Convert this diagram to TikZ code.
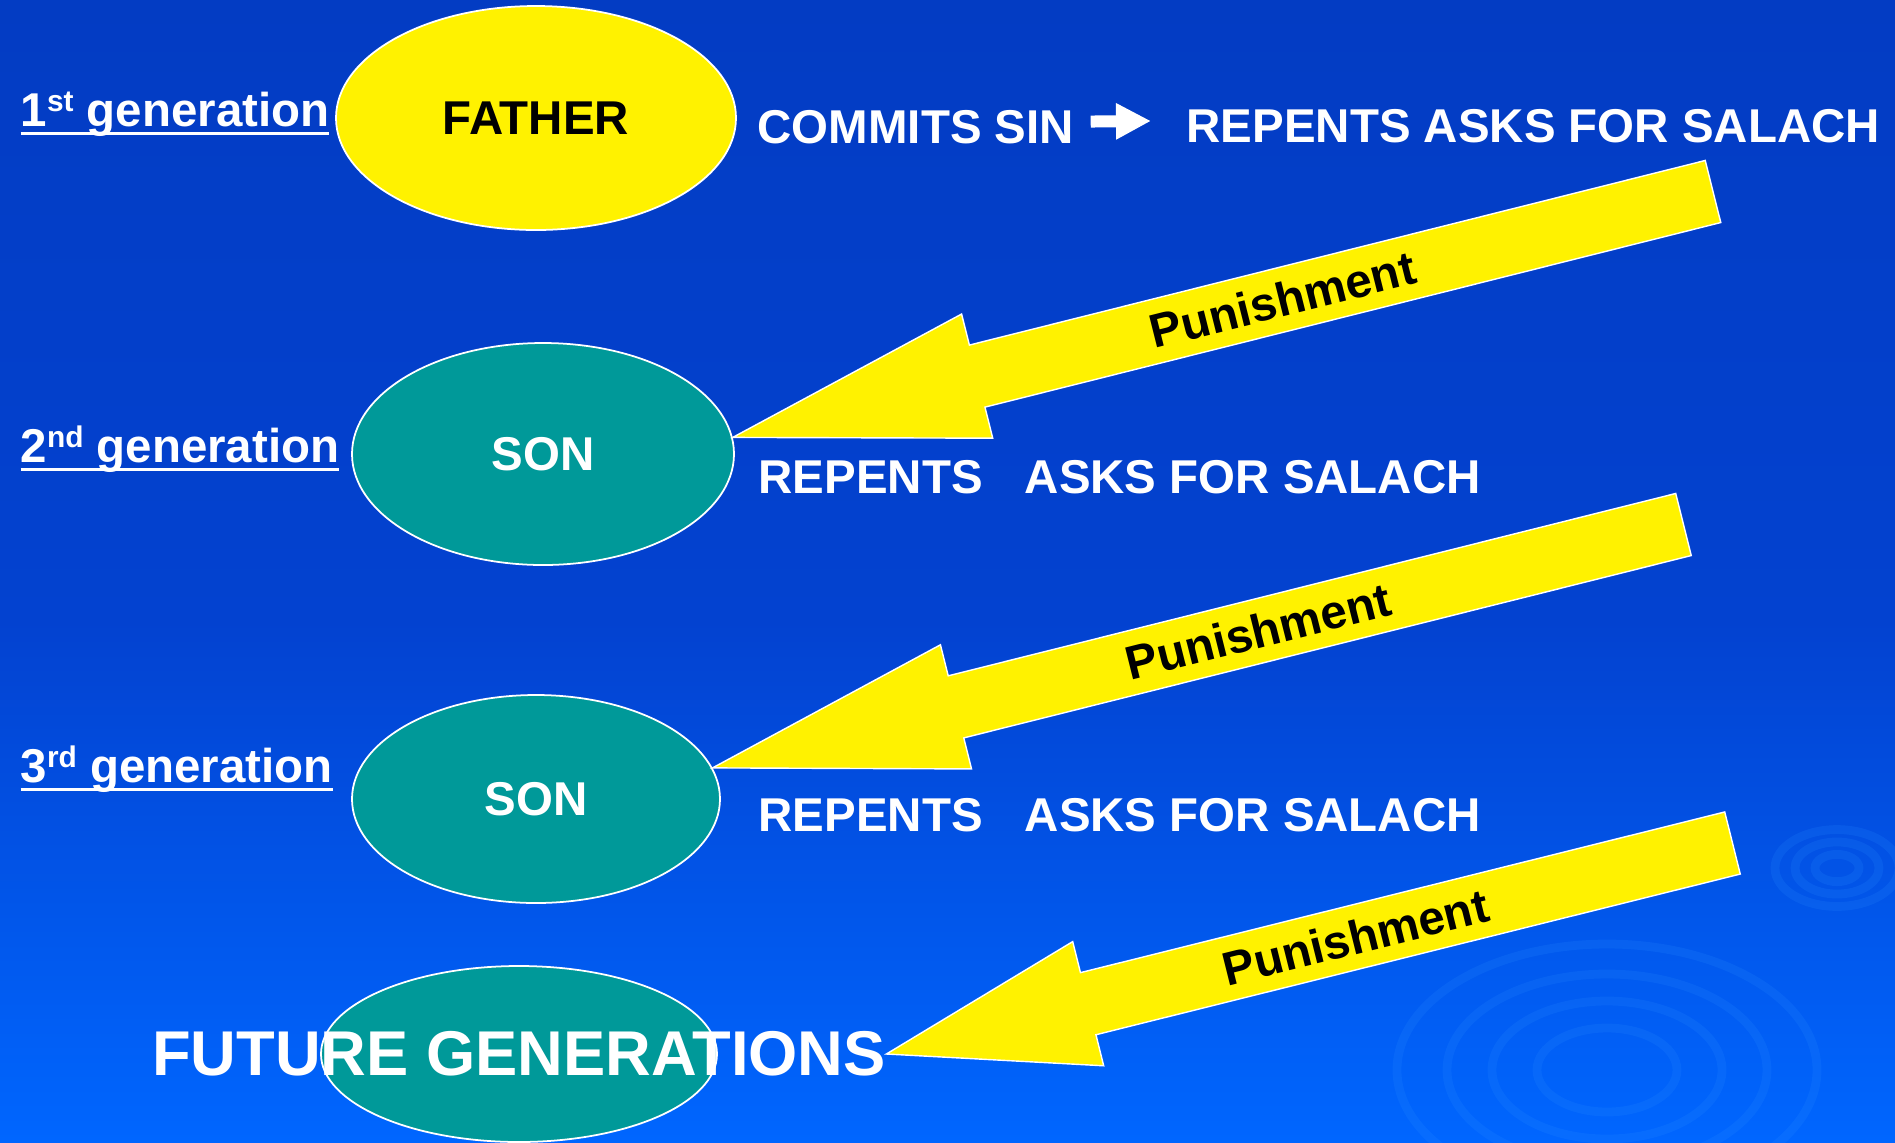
\documentclass[tikz,border=0pt]{standalone}
\usepackage{fontspec}
\setmainfont{Liberation Sans}
\usetikzlibrary{shapes.geometric,calc,arrows.meta}
\definecolor{bgtop}{RGB}{3,60,195}
\definecolor{bgmid}{RGB}{3,66,208}
\definecolor{bgbot}{RGB}{0,102,255}
\definecolor{sonteal}{RGB}{0,153,153}
\definecolor{ripple}{RGB}{40,140,255}
\newcommand{\ulgen}[1]{\setbox0\hbox{#1}\rlap{\rule[-2.6pt]{\wd0}{0.8pt}}\box0}
\newcommand{\gsup}[1]{\raisebox{4pt}{\fontsize{8.5}{8.5}\selectfont #1}}
\newcommand{\punarrow}[4]{%
  \coordinate (hb) at ($(#1)!#3!(#2)$);
  \filldraw[pun] (#1) -- ($(hb)!0.64cm!90:(#2)$) -- ($(hb)!0.32cm!90:(#2)$)
    -- ($(#2)!0.32cm!-90:(hb)$) -- ($(#2)!0.32cm!90:(hb)$)
    -- ($(hb)!0.32cm!-90:(#2)$) -- ($(hb)!0.64cm!-90:(#2)$) -- cycle;
  \path (hb) -- (#2) node[pos=0.415,sloped,plab] (#4) {Punishment};
}
\begin{document}
\begin{tikzpicture}[
    lbl/.style={font=\fontsize{13.5}{16}\selectfont\bfseries,inner sep=0pt},
    txt/.style={lbl,text=white},
    ell/.style={ellipse,draw=white,line width=0.5pt,inner sep=0pt},
    pun/.style={fill=yellow,draw=white,line width=0.4pt,line join=miter},
    plab/.style={lbl,text=black},
    rip/.style={draw=ripple,line width=2.5pt,opacity=0.18}]
    \useasboundingbox (0,0) rectangle (18.95,-11.42);
    \shade[top color=bgtop,bottom color=bgmid] (0,0) rectangle (18.95,-6.2);
    \shade[top color=bgmid,bottom color=bgbot] (0,-6.2) rectangle (18.95,-11.42);
    % ripples
    \foreach \r in {0.7,1.15,1.6,2.1}
        \draw[rip] (16.07,-10.7) ellipse ({\r} and {0.6*\r});
    \foreach \r in {0.22,0.42,0.62}
        \draw[rip] (18.37,-8.68) ellipse ({\r} and {0.62*\r});

    \node[ell,fill=yellow,lbl,text=black,minimum width=4cm,minimum height=2.24cm] (father) at (5.36,-1.18) {FATHER};
    \node[ell,fill=sonteal,txt,minimum width=3.82cm,minimum height=2.22cm] (son1) at (5.43,-4.54) {SON};
    \node[ell,fill=sonteal,txt,minimum width=3.68cm,minimum height=2.08cm] (son2) at (5.36,-7.99) {SON};
    \node[ell,fill=sonteal,minimum width=3.96cm,minimum height=1.76cm] (fut) at (5.19,-10.54) {};
    \node[txt,font=\fontsize{18}{22}\selectfont\bfseries] (futtxt) at (fut.center) {FUTURE GENERATIONS};

    \node[txt,anchor=base west] (gen1) at (0.20,-1.26) {\ulgen{1\gsup{st} generation}};
    \node[txt,anchor=base west] (gen2) at (0.20,-4.62) {\ulgen{2\gsup{nd} generation}};
    \node[txt,anchor=base west] (gen3) at (0.20,-7.82) {\ulgen{3\gsup{rd} generation}};

    \node[txt,anchor=base west] (sin) at (7.57,-1.43) {COMMITS SIN};
    \node[txt,anchor=base west] (rep1) at (11.86,-1.42) {REPENTS ASKS FOR SALACH};
    \node[txt,anchor=base west] (rep2) at (7.58,-4.93) {REPENTS\hspace{0.42cm}ASKS FOR SALACH};
    \node[txt,anchor=base west] (rep3) at (7.58,-8.31) {REPENTS\hspace{0.42cm}ASKS FOR SALACH};

    \draw[white,line width=0.12cm,-{Triangle[length=0.35cm,width=0.34cm]},shorten <=0.16cm,shorten >=0.35cm]
        ([yshift=0.05cm]sin.east) -- ([yshift=0.05cm]rep1.west);

    \coordinate (t1) at (17.13,-1.915);
    \coordinate (t2) at (16.835,-5.245);
    \coordinate (t3) at (17.325,-8.43);
    \punarrow{son1.5}{t1}{2.52cm}{p1}
    \punarrow{son2.10}{t2}{2.51cm}{p2}
    \punarrow{futtxt.east}{t3}{2.08cm}{p3}
\end{tikzpicture}
\end{document}
